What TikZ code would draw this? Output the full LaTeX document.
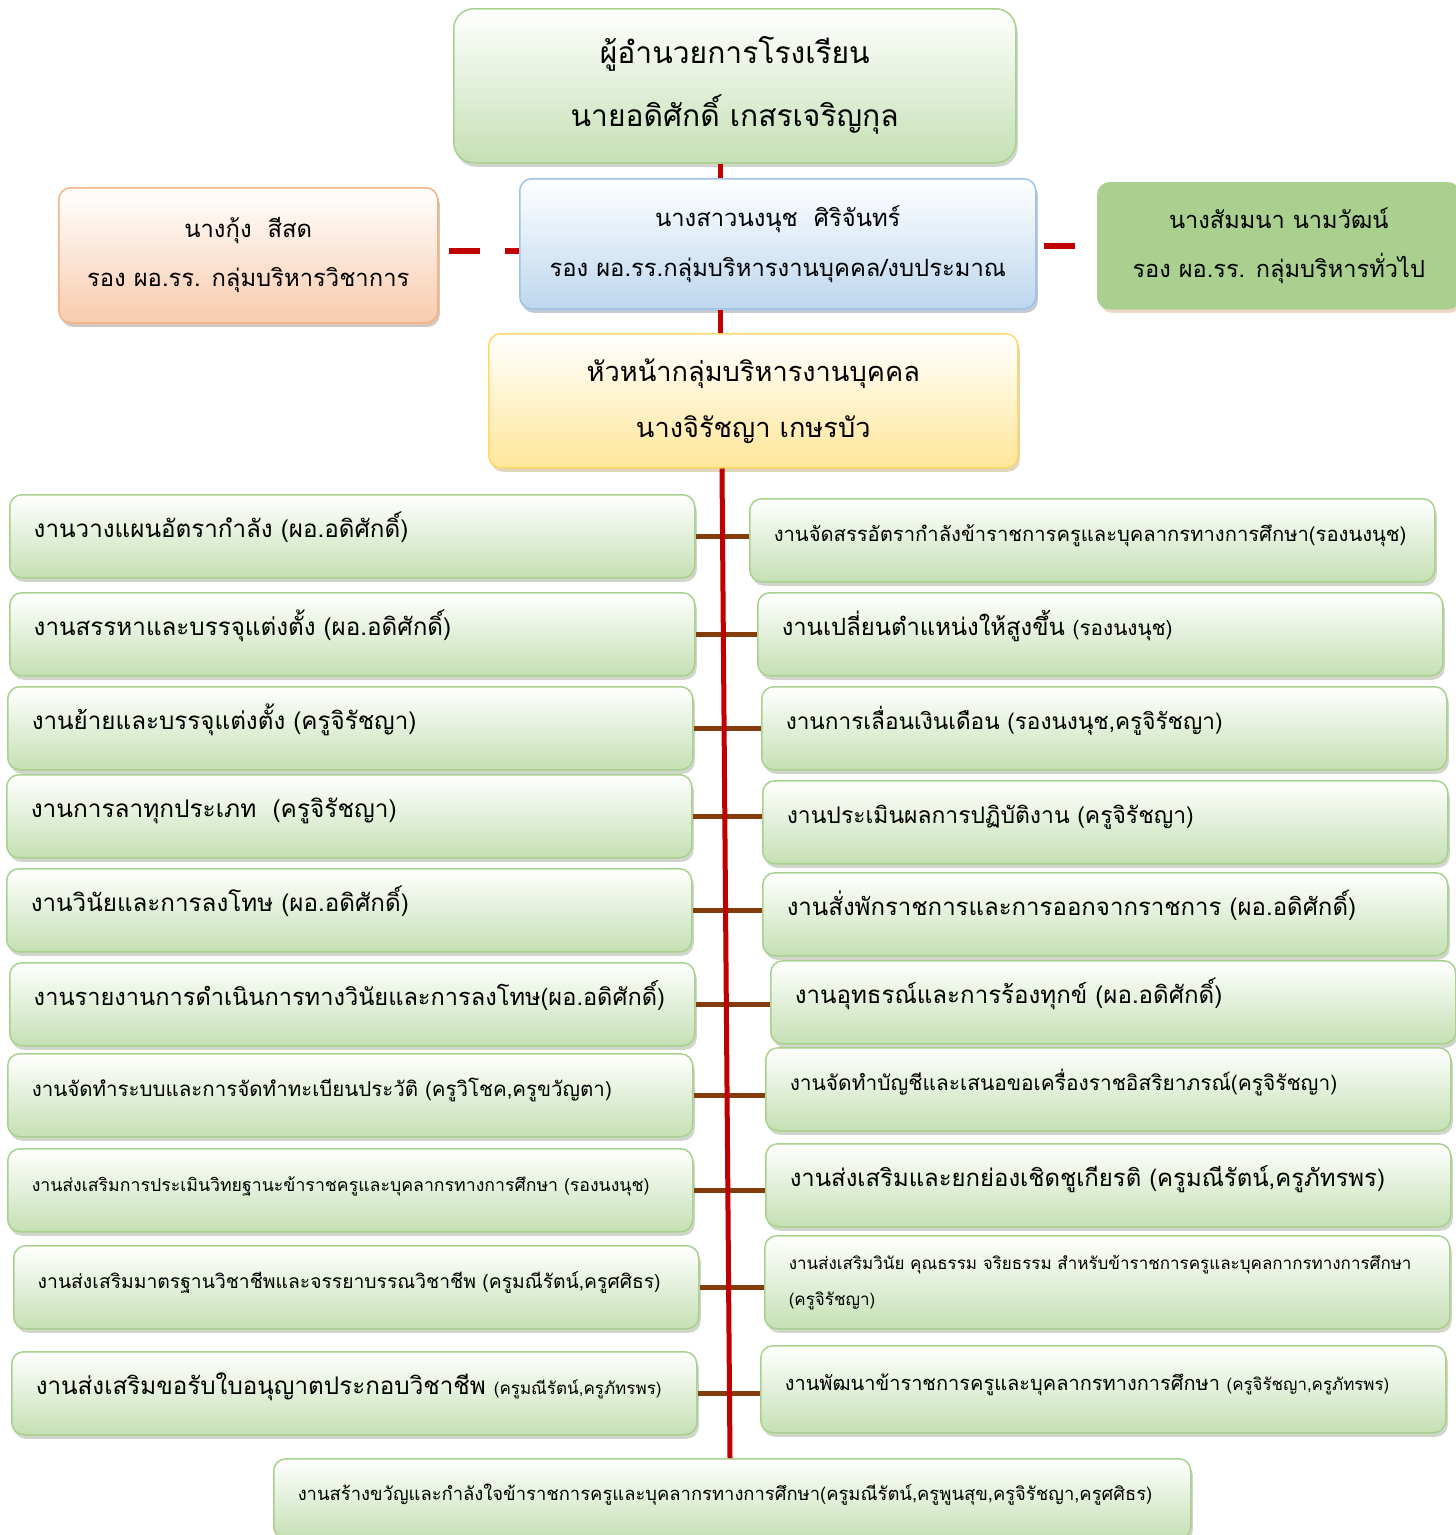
\documentclass[tikz,border=0pt]{standalone}
\usepackage{fontspec}
\newfontfamily\thaifont[Script=Thai]{Loma}
\usetikzlibrary{shadows}
\definecolor{linered}{HTML}{C00000}
\definecolor{linebrown}{HTML}{843C0C}
\definecolor{greenline}{HTML}{A9D18E}
\definecolor{greenfill}{HTML}{C5E0B4}
\definecolor{orangeline}{HTML}{F4B183}
\definecolor{orangefill}{HTML}{F8CBAD}
\definecolor{blueline}{HTML}{9DC3E6}
\definecolor{bluefill}{HTML}{BDD7EE}
\definecolor{yellowline}{HTML}{FFD966}
\definecolor{yellowfill}{HTML}{FFE699}
\definecolor{darkgreen}{HTML}{A9D08E}
\definecolor{greenshadow}{HTML}{A3AE98}
\newcommand{\thfs}[2]{\fontsize{#1}{#2}\selectfont}

\begin{document}
\begin{tikzpicture}[x=1pt,y=-1pt,
	fs/.style 2 args={font=\thaifont\thfs{#1}{#2}},
	box/.style={line width=1.5pt, rounded corners=12pt, inner ysep=0pt, anchor=north west, drop shadow={shadow xshift=2pt, shadow yshift=-4pt, fill=#1}},
	greenbox/.style={box=greenshadow, draw=greenline, top color=white, bottom color=greenfill},
	taskbase/.style={greenbox, minimum height=83pt, text width=637pt, inner xsep=24pt, align=left},
	task/.style={taskbase, text height=18pt, text depth=15pt},
	spine/.style={draw=linered, line width=5pt},
	branch/.style={draw=linebrown, line width=5pt},
	dashlink/.style={draw=linered, line width=6pt, dash pattern=on 31pt off 25pt}]

	\useasboundingbox (0,0) rectangle (1456,1535);

	% top of the chart
	\node[greenbox, fs={30}{63}, rounded corners=20pt, minimum width=562pt, minimum height=154pt, align=center] (director) at (453,8) {ผู้อำนวยการโรงเรียน\\นายอดิศักดิ์ เกสรเจริญกุล};
	\node[box=black!30!orangefill, fs={23.8}{49}, draw=orangeline, top color=white, bottom color=orangefill, minimum width=379pt, minimum height=135pt, align=center] (vpacad) at (58,187) {นางกุ้ง~~สีสด\\รอง ผอ.รร. กลุ่มบริหารวิชาการ};
	\node[box=black!30!bluefill, fs={23.8}{50}, draw=blueline, top color=white, bottom color=bluefill, minimum width=516pt, minimum height=130pt, align=center] (vpperson) at (519,178) {นางสาวนงนุช~~ศิริจันทร์\\รอง ผอ.รร.กลุ่มบริหารงานบุคคล/งบประมาณ};
	\node[box={brown!60!white}, fs={23.6}{49}, draw=darkgreen, fill=darkgreen, minimum width=362pt, minimum height=126pt, align=center] (vpgeneral) at (1097,182) {นางสัมมนา นามวัฒน์\\รอง ผอ.รร. กลุ่มบริหารทั่วไป};
	\node[box=black!25!yellowfill, fs={27.2}{56}, draw=yellowline, top color=white, bottom color=yellowfill, minimum width=529pt, minimum height=134pt, align=center] (headhr) at (488,333) {หัวหน้ากลุ่มบริหารงานบุคคล\\นางจิรัชญา เกษรบัว};

	% left column
	\node[task, fs={24.2}{28}] (l1) at (9,494) {งานวางแผนอัตรากำลัง (ผอ.อดิศักดิ์)};
	\node[task, fs={24.2}{28}] (l2) at (9,592) {งานสรรหาและบรรจุแต่งตั้ง (ผอ.อดิศักดิ์)};
	\node[task, fs={24.2}{28}] (l3) at (7,686) {งานย้ายและบรรจุแต่งตั้ง (ครูจิรัชญา)};
	\node[task, fs={24.4}{28}] (l4) at (6,774) {งานการลาทุกประเภท~~(ครูจิรัชญา)};
	\node[task, fs={24.2}{28}] (l5) at (6,868) {งานวินัยและการลงโทษ (ผอ.อดิศักดิ์)};
	\node[task, fs={23.6}{28}] (l6) at (9,962) {งานรายงานการดำเนินการทางวินัยและการลงโทษ(ผอ.อดิศักดิ์)};
	\node[task, fs={20.5}{24}] (l7) at (7,1053) {งานจัดทำระบบและการจัดทำทะเบียนประวัติ (ครูวิโชค,ครูขวัญตา)};
	\node[task, fs={17.7}{21}] (l8) at (7,1148) {งานส่งเสริมการประเมินวิทยฐานะข้าราชครูและบุคลากรทางการศึกษา (รองนงนุช)};
	\node[task, fs={19.3}{23}] (l9) at (13,1245) {งานส่งเสริมมาตรฐานวิชาชีพและจรรยาบรรณวิชาชีพ (ครูมณีรัตน์,ครูศศิธร)};
	\node[task, fs={24.2}{28}] (l10) at (11,1351) {งานส่งเสริมขอรับใบอนุญาตประกอบวิชาชีพ {\thfs{17}{20}(ครูมณีรัตน์,ครูภัทรพร)}};

	% right column
	\node[task, fs={20.2}{24}] (r1) at (749,498) {งานจัดสรรอัตรากำลังข้าราชการครูและบุคลากรทางการศึกษา(รองนงนุช)};
	\node[task, fs={23.8}{28}] (r2) at (757,592) {งานเปลี่ยนตำแหน่งให้สูงขึ้น {\thfs{20.7}{24}(รองนงนุช)}};
	\node[task, fs={22.6}{26}] (r3) at (761,686) {งานการเลื่อนเงินเดือน (รองนงนุช,ครูจิรัชญา)};
	\node[task, fs={22.9}{26}] (r4) at (762,780) {งานประเมินผลการปฏิบัติงาน (ครูจิรัชญา)};
	\node[task, fs={24}{28}] (r5) at (762,872) {งานสั่งพักราชการและการออกจากราชการ (ผอ.อดิศักดิ์)};
	\node[task, fs={24.1}{28}] (r6) at (770,960) {งานอุทธรณ์และการร้องทุกข์ (ผอ.อดิศักดิ์)};
	\node[task, fs={20.9}{25}] (r7) at (765,1047) {งานจัดทำบัญชีและเสนอขอเครื่องราชอิสริยาภรณ์(ครูจิรัชญา)};
	\node[task, fs={23.9}{28}] (r8) at (765,1143) {งานส่งเสริมและยกย่องเชิดชูเกียรติ (ครูมณีรัตน์,ครูภัทรพร)};
	\node[taskbase, fs={17}{36}, minimum height=93pt] (r9) at (764,1235) {งานส่งเสริมวินัย คุณธรรม จริยธรรม สำหรับข้าราชการครูและบุคลกากรทางการศึกษา\\(ครูจิรัชญา)};
	\node[task, fs={20}{24}, minimum height=87pt] (r10) at (760,1345) {งานพัฒนาข้าราชการครูและบุคลากรทางการศึกษา {\thfs{16.9}{20}(ครูจิรัชญา,ครูภัทรพร)}};

	\node[task, fs={18.4}{22}, text width=869pt, minimum height=80pt] (morale) at (273,1458) {งานสร้างขวัญและกำลังใจข้าราชการครูและบุคลากรทางการศึกษา(ครูมณีรัตน์,ครูพูนสุข,ครูจิรัชญา,ครูศศิธร)};

	% connectors
	\coordinate (upper) at (720,0);
	\coordinate (spinetop) at (722,0);
	\coordinate (spinebot) at (730,0);
	\draw[dashlink] (vpacad.east |- 0,251) ++(10,0) -- (vpperson.west |- 0,251);
	\draw[dashlink] (vpperson.east |- 0,246) ++(7,0) -- (vpgeneral.west |- 0,246);
	\foreach \i in {1,...,10}
		\draw[branch] (l\i.east) -- (l\i.east -| r\i.west);
	\draw[spine] (director.south -| upper) -- (vpperson.north -| upper);
	\draw[spine] (vpperson.south -| upper) -- (headhr.north -| upper);
	\draw[spine] (headhr.south -| spinetop) -- (morale.north -| spinebot);

\end{tikzpicture}
\end{document}
